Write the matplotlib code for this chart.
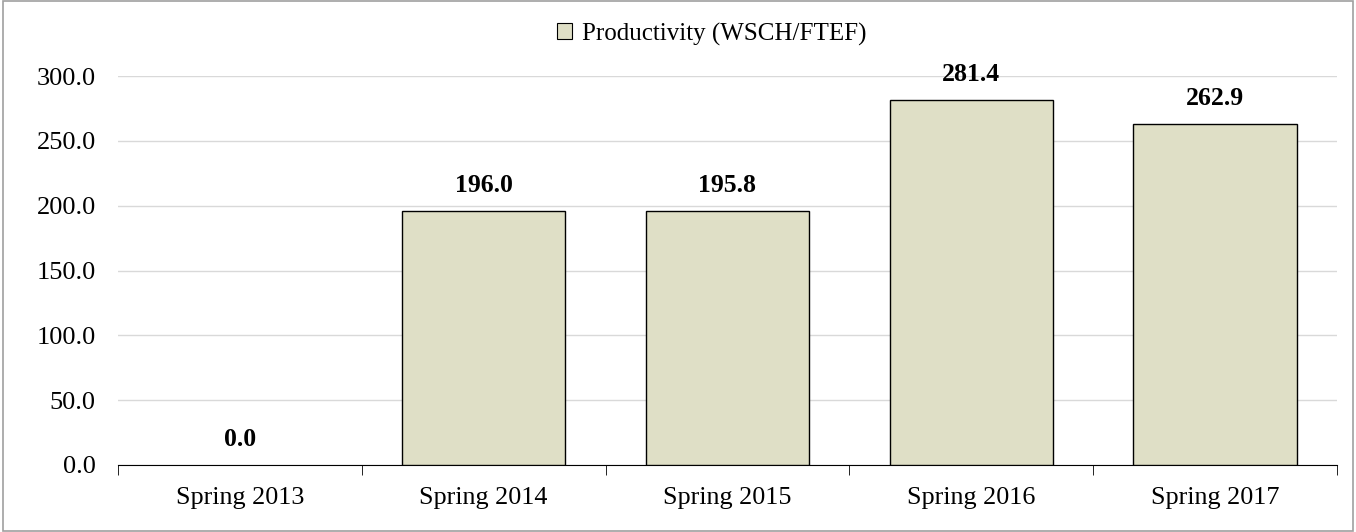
import matplotlib.pyplot as plt
from matplotlib.patches import Rectangle
import numpy as np

categories = ['Spring 2013', 'Spring 2014', 'Spring 2015', 'Spring 2016', 'Spring 2017']
values = [0.0, 196.0, 195.8, 281.4, 262.9]
series_name = 'Productivity (WSCH/FTEF)'

plt.rcParams['font.family'] = ['Liberation Serif', 'DejaVu Serif']

fig = plt.figure(figsize=(13.56, 5.32), dpi=100)
ax = fig.add_axes([0.087, 0.126, 0.899, 0.731])

x = np.arange(len(categories))
bars = ax.bar(x, values, width=0.67, color='#dfdfc6', edgecolor='black', linewidth=1.0,
              label=series_name, zorder=3)
for b, v in zip(bars, values):
    if v == 0:
        b.set_linewidth(0)

for xi, v in zip(x, values):
    ax.text(xi, v + 11, f'{v:.1f}', ha='center', va='bottom', fontsize=18.5, fontweight='bold')

ax.set_xlim(-0.5, len(categories) - 0.5)
ax.set_ylim(0, 300)
ax.set_yticks(np.arange(0, 301, 50))
ax.set_yticklabels([f'{t:.1f}' for t in np.arange(0, 301, 50)], fontsize=19)
ax.yaxis.grid(True, color='#d9d9d9', linewidth=1, zorder=0)
ax.set_axisbelow(True)

ax.set_xticks(x)
ax.set_xticklabels(categories, fontsize=18.8)
ax.tick_params(axis='x', length=0, pad=16)
ax.set_xticks(np.arange(-0.5, len(categories)), minor=True)
ax.tick_params(axis='x', which='minor', length=7, direction='out', color='black')
ax.tick_params(axis='y', length=0, pad=16)

for s in ['top', 'right', 'left']:
    ax.spines[s].set_visible(False)
ax.spines['bottom'].set_color('black')

leg = fig.legend(handles=[bars], labels=[series_name], loc='center', bbox_to_anchor=(0.525, 0.936),
                 frameon=False, fontsize=18, handlelength=0.6, handleheight=0.6, handletextpad=0.4)
for h in leg.legend_handles:
    h.set_linewidth(0.8)

fig.patches.append(Rectangle((0.002, 0.002), 0.996, 0.996, transform=fig.transFigure,
                             fill=False, edgecolor='#a0a0a0', linewidth=1.2))

fig.savefig('out.png', dpi=100)
